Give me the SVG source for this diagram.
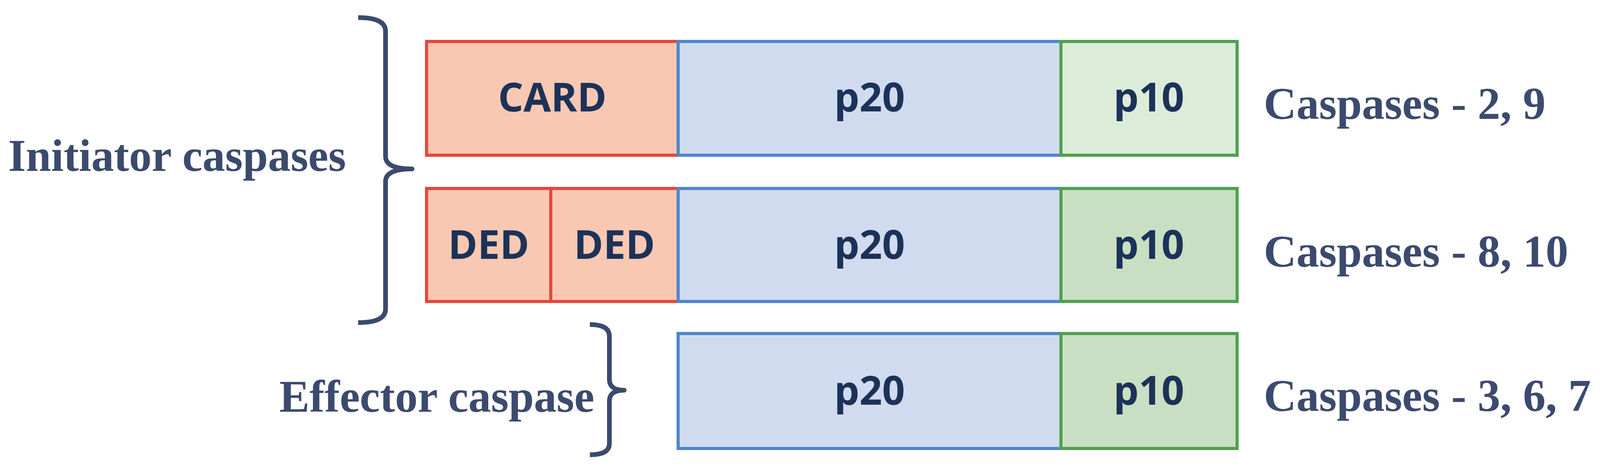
<svg xmlns="http://www.w3.org/2000/svg" width="4152" height="1202" viewBox="0 0 4152 1202">
<style>
.red{fill:#f9c8b3;stroke:#e5473b;stroke-width:8}
.blue{fill:#d1dbef;stroke:#4f86cc;stroke-width:8}
.g1{fill:#dcecd9;stroke:#4fa04f;stroke-width:8}
.g2{fill:#c9dfc3;stroke:#4fa04f;stroke-width:8}
.bt{font-family:"Open Sans","Liberation Sans",sans-serif;font-weight:bold;font-size:102px;fill:#1c3258;text-anchor:middle;dominant-baseline:central}
.lb{font-family:"Liberation Serif",serif;font-weight:bold;font-size:116px;fill:#3b4a6e;dominant-baseline:central}
.br{fill:none;stroke:#3b4a6e;stroke-width:12;stroke-linejoin:round}
</style>
<rect width="4152" height="1202" fill="#fff"/>
<g id="row1">
<rect class="red" x="1092" y="106" width="644" height="291"/><text class="bt" x="1414" y="245">CARD</text>
<rect class="blue" x="1736" y="106" width="980" height="291"/><text class="bt" x="2226" y="245">p20</text>
<rect class="g1" x="2716" y="106" width="451" height="291"/><text class="bt" x="2941" y="245">p10</text>
</g>
<g id="row2">
<rect class="red" x="1092" y="482" width="318" height="289"/><text class="bt" x="1251" y="622">DED</text>
<rect class="red" x="1410" y="482" width="326" height="289"/><text class="bt" x="1573" y="622">DED</text>
<rect class="blue" x="1736" y="482" width="980" height="289"/><text class="bt" x="2226" y="622">p20</text>
<rect class="g2" x="2716" y="482" width="451" height="289"/><text class="bt" x="2941" y="622">p10</text>
</g>
<g id="row3">
<rect class="blue" x="1736" y="853" width="980" height="294"/><text class="bt" x="2226" y="995">p20</text>
<rect class="g2" x="2716" y="853" width="451" height="294"/><text class="bt" x="2941" y="995">p10</text>
</g>
<g id="labels">
<text class="lb" x="3235" y="265">Caspases - 2, 9</text>
<text class="lb" x="3235" y="643">Caspases - 8, 10</text>
<text class="lb" x="3235" y="1012">Caspases - 3, 6, 7</text>
<text class="lb" x="21" y="398">Initiator caspases</text>
<text class="lb" x="715" y="1014">Effector caspase</text>
</g>
<g id="braces">
<path class="br" d="M917 45 Q987 45 987 80 L987 400 Q987 432 1055 432 Q987 432 987 464 L987 790 Q987 825 917 825"/>
<path class="br" d="M1510 830 Q1560 830 1560 860 L1560 970 Q1560 998 1598 998 Q1560 998 1560 1026 L1560 1135 Q1560 1163 1510 1163"/>
</g>
</svg>
